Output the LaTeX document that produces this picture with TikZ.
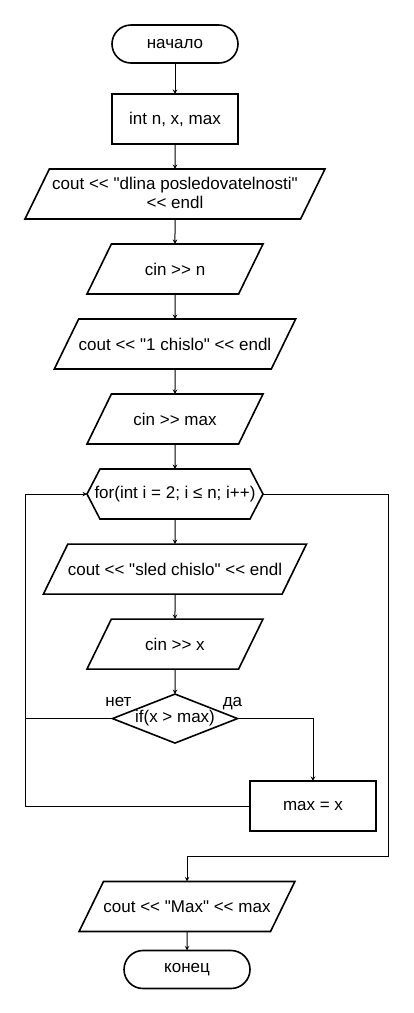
\documentclass[tikz,border=0pt]{standalone}
\usepackage{fontspec}
\setmainfont{Liberation Sans}[Ligatures=TeXOff]
\usetikzlibrary{positioning}
\usetikzlibrary{shapes.geometric}
\usetikzlibrary{shapes.misc}
\usetikzlibrary{shapes.symbols}
\def\mygap{25pt}
\tikzset{
x=1pt,y=1pt, % one unit = one pixel of the target
>=stealth,
my node/.style={font=\fontsize{17}{19}\selectfont,inner sep=0pt},
my box/.style={my node,draw,line width=1.6pt,outer sep=0pt},
my term/.style={my box,rounded rectangle,minimum width=126pt,minimum height=38pt},
my proc/.style={my box,rectangle,minimum width=126pt,minimum height=50pt},
my io/.style={my box,trapezium,trapezium left angle=64,trapezium right angle=116,
  trapezium stretches body,text height=31pt,text depth=19pt,minimum width=#1},
my loop/.style={my box,signal,signal to=west and east,signal pointer angle=125,
  minimum width=176pt,minimum height=50pt},
my cond/.style={my box,diamond,aspect=2.55,minimum width=125pt,minimum height=49pt},
my label/.style={my node,anchor=base},
flow/.style={line width=1pt}
}
\begin{document}
\begin{tikzpicture}
\useasboundingbox (0,0) rectangle (413,-1013);
\node[my term]  (start)                               at (175,-44) {начало};
\node[my proc]  (decl)     [below=31pt of start]      {int n, x, max};
\node[my io=300pt] (asklen) [below=\mygap of decl]
  {\begin{tabular}{@{}c@{}}cout << "dlina posledovatelnosti"\\<< endl\end{tabular}};
\node[my io=176pt] (readn)    [below=\mygap of asklen]   {cin >> n};
\node[my io=224pt] (askfirst) [below=\mygap of readn]    {cout << "1 chislo" << endl};
\node[my io=176pt] (readmax)  [below=\mygap of askfirst] {cin >> max};
\node[my loop]  (loop)     [below=\mygap of readmax]
  {\makebox[150pt]{for(int i = 2; i ≤ n; i++)}};
\node[my io=252pt] (asknext)  [below=\mygap of loop]     {cout << "sled chislo" << endl};
\node[my io=176pt] (readx)    [below=\mygap of asknext]  {cin >> x};
\node[my cond]  (cmp)      [below=\mygap of readx]    {if(x > max)};
\node[my proc]  (upd)                                 at (313,-806) {max = x};
\node[my io=200pt] (showmax)                          at (187,-906.5) {cout << "Max" << max};
\node[my term]  (stop)     [below=19pt of showmax]    {конец};
% branch labels
\node[my label] (no)  at ([shift={(6,12)}]cmp.west)  {нет};
\node[my label] (yes) at ([shift={(-5,12)}]cmp.east) {да};
% loop corners
\coordinate (lft) at (25,0);
\coordinate (rgt) at (388,-856);
\path[->,flow] (start)    edge (decl)
               (decl)     edge (asklen)
               (asklen)   edge (readn)
               (readn)    edge (askfirst)
               (askfirst) edge (readmax)
               (readmax)  edge (loop)
               (loop)     edge (asknext)
               (asknext)  edge (readx)
               (readx)    edge (cmp)
               (showmax)  edge (stop);
\draw[->,flow] (cmp.east) -| (upd.north);
\draw[flow] (cmp.west) -- (cmp.west -| lft);
\draw[->,flow] (upd.west) -- (upd.west -| lft) |- (loop.west);
\draw[->,flow] (loop.east) -| (rgt) -| (showmax.north);
\end{tikzpicture}
\end{document}
